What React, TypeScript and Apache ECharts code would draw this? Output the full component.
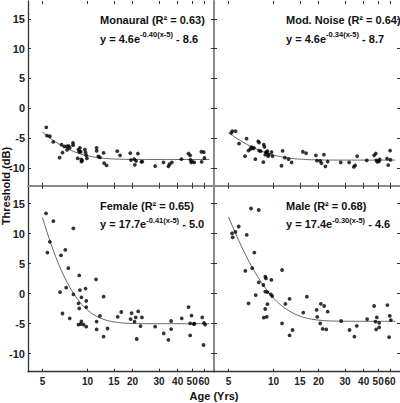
import React, { useEffect, useRef } from 'react';
import * as echarts from 'echarts';

const xTicks = [5, 10, 15, 20, 30, 40, 50, 60];
const yTicks = [-10, -5, 0, 5, 10, 15];

const monauralPts: number[][] = [
  [5.3, -3.2], [5.36, -4.6], [5.6, -4.7], [5.9, -5.65], [6.5, -8.3], [6.7, -6.1], [6.8, -7.45],
  [7.0, -6.4], [7.3, -7.0], [7.3, -6.35], [7.5, -6.35], [7.6, -6.65], [8.0, -5.8], [8.0, -6.2],
  [8.6, -8.4], [8.7, -6.95], [8.8, -7.3], [8.9, -6.65], [9.0, -7.3], [9.1, -8.6], [9.1, -8.95],
  [9.2, -8.8], [9.6, -6.95], [9.7, -7.45], [9.8, -7.9], [9.9, -8.4], [11.5, -6.65], [11.5, -7.15],
  [11.8, -8.1], [12.1, -8.25], [12.8, -7.5], [12.9, -9.2], [13.4, -9.6], [15.8, -7.2], [16.5, -7.9],
  [19.3, -7.55], [19.5, -8.7], [20.5, -8.55], [20.7, -9.5], [21.1, -8.85], [21.7, -7.6], [22.9, -9.0],
  [23.2, -8.95], [28.3, -9.7], [32.2, -9.1], [34.7, -9.75], [35.3, -9.4], [36.6, -9.1], [42.4, -8.55],
  [47.3, -7.6], [48.5, -7.9], [48.7, -8.65], [49.3, -9.1], [49.9, -8.9], [51.6, -9.1], [57.7, -7.3],
  [57.9, -9.0], [59.8, -7.35], [60.4, -8.35],
];

const modNoisePts: number[][] = [
  [5.22, -4.15], [5.3, -3.85], [5.58, -3.85], [5.88, -5.95], [6.45, -8.05], [6.6, -5.1], [6.8, -7.1],
  [7.0, -6.85], [7.1, -6.55], [7.3, -6.75], [7.4, -6.65], [7.56, -8.55], [7.9, -5.55], [8.0, -5.75],
  [8.0, -7.1], [8.2, -7.2], [8.55, -9.05], [8.6, -6.1], [8.7, -6.5], [8.8, -7.8], [8.9, -7.35],
  [9.0, -7.45], [9.1, -7.2], [9.2, -8.05], [9.3, -7.8], [9.7, -7.35], [9.85, -8.05], [11.3, -9.65],
  [11.5, -7.15], [11.9, -8.3], [12.6, -8.55], [13.2, -9.1], [15.7, -7.3], [16.5, -7.55], [19.2, -7.9],
  [19.5, -8.8], [20.5, -8.85], [20.9, -9.2], [21.7, -7.8], [22.2, -9.75], [23.0, -8.95], [28.1, -9.1],
  [32.0, -9.1], [34.4, -9.85], [35.1, -9.6], [36.2, -8.05], [42.0, -8.75], [47.0, -7.9], [48.2, -7.6],
  [48.7, -8.75], [49.4, -9.0], [50.7, -8.9], [51.2, -8.6], [57.4, -8.45], [58.4, -9.55], [60.1, -7.1],
  [60.4, -8.65],
];

const femalePts: number[][] = [
  [5.28, 13.4], [5.91, 12.1], [8.04, 10.9], [5.6, 8.65], [5.39, 6.85], [7.1, 7.3], [6.65, 6.4],
  [7.44, 4.25], [8.8, 3.05], [11.4, 2.4], [7.2, 1.0], [6.55, 0.25], [8.9, 0.6], [9.7, 0.85],
  [8.04, -0.1], [9.1, -0.6], [12.8, -0.5], [8.7, -1.6], [9.8, -1.2], [8.8, -2.45], [9.8, -2.25],
  [6.8, -3.3], [7.6, -4.1], [9.1, -4.6], [9.0, -5.05], [8.7, -5.15], [9.4, -5.15], [9.8, -5.5],
  [12.1, -3.7], [11.5, -4.65], [15.9, -3.85], [16.8, -3.05], [13.6, -5.8], [11.5, -5.95], [12.8, -7.15],
  [19.4, -4.25], [19.7, -3.25], [20.6, -4.65], [21.0, -3.95], [21.8, -2.95], [21.3, -7.55], [22.6, -5.4],
  [23.1, -3.95], [28.3, -5.5], [32.3, -6.6], [34.7, -7.7], [36.2, -5.9], [36.2, -4.55], [42.6, -4.1],
  [47.3, -2.25], [48.5, -6.95], [48.5, -4.95], [49.5, -3.65], [51.3, -5.05], [51.8, -5.0], [58.4, -3.95],
  [59.6, -8.55], [60.0, -4.85], [61.1, -5.15],
];

const malePts: number[][] = [
  [7.07, 14.2], [7.96, 13.95], [5.85, 11.2], [5.56, 10.3], [5.28, 10.05], [5.33, 9.4], [6.62, 9.8],
  [7.44, 6.85], [6.48, 3.8], [7.2, 4.25], [8.8, 2.85], [8.9, 2.55], [9.67, 2.3], [11.4, 3.95],
  [7.96, 1.9], [8.55, 1.45], [8.8, 0.35], [9.1, 0.25], [9.6, -0.1], [9.8, -0.4], [7.6, -0.25],
  [12.8, -0.85], [16.7, -0.5], [6.8, -1.6], [9.1, -1.75], [12.0, -1.7], [8.8, -2.55], [15.8, -3.15],
  [9.0, -3.85], [8.6, -4.0], [11.4, -4.95], [13.4, -6.05], [12.8, -6.95],
  [19.4, -2.7], [20.7, -1.7], [21.8, -2.05], [23.0, -3.0], [19.6, -3.85], [20.5, -4.95], [21.3, -5.85],
  [22.5, -5.95], [28.3, -4.55], [32.2, -6.05], [34.7, -7.15], [36.0, -5.35], [42.2, -4.25], [47.0, -2.05],
  [48.0, -4.65], [49.0, -3.95], [48.5, -5.95], [50.8, -4.85], [50.8, -5.6], [57.7, -1.9], [59.8, -3.7],
  [60.8, -4.4], [59.2, -7.25],
];

const panelTitles = [
  'Monaural (R\u00b2 = 0.63)',
  'Mod. Noise (R\u00b2 = 0.64)',
  'Female (R\u00b2 = 0.65)',
  'Male (R\u00b2 = 0.68)',
];
const fitA = [4.6, 4.6, 17.7, 17.4];
const fitB = [-0.4, -0.34, -0.41, -0.3];
const fitC = [-8.6, -8.7, -5.0, -4.6];
const fitLabelA = ['4.6', '4.6', '17.7', '17.4'];
const fitLabelB = ['-0.40', '-0.34', '-0.41', '-0.30'];
const fitLabelC = ['- 8.6', '- 8.7', '- 5.0', '- 4.6'];
const curveStart = 5;
const curveEnd = 65;

const FONT = '"Liberation Sans", Arial, sans-serif';

export default function App() {
  const ref = useRef<HTMLDivElement>(null);
  useEffect(() => {
    if (!ref.current) return;
    const chart = echarts.init(ref.current, null, { renderer: 'svg' });
    const pts = [monauralPts, modNoisePts, femalePts, malePts];
    const grids = [
      { left: 28, top: 1, width: 186, height: 184.7 },
      { left: 214, top: 1, width: 186, height: 184.7 },
      { left: 28, top: 185.7, width: 186, height: 186 },
      { left: 214, top: 185.7, width: 186, height: 186 },
    ];
    const darkLine = { show: true, onZero: false, lineStyle: { color: '#333', width: 1.3 } };
    const greyLine = { show: true, onZero: false, lineStyle: { color: '#8a8a8a', width: 2 } };
    const tick = { show: true, inside: true, length: 3, customValues: xTicks, lineStyle: { color: '#333', width: 1 } };
    const ytick = { show: true, inside: true, length: 3, customValues: yTicks, lineStyle: { color: '#333', width: 1 } };
    const xAxes: any[] = [];
    const yAxes: any[] = [];
    const series: any[] = [];
    for (let i = 0; i < 4; i++) {
      const bottomRow = i >= 2;
      const leftCol = i % 2 === 0;
      xAxes.push({
        type: 'log', logBase: 10, min: 4, max: 70, gridIndex: i, position: 'bottom',
        axisLine: bottomRow ? darkLine : greyLine,
        axisTick: tick,
        axisLabel: {
          show: bottomRow, customValues: xTicks, margin: 5, hideOverlap: false,
          showMinLabel: true, showMaxLabel: true,
          fontFamily: FONT, fontWeight: 'bold', fontSize: 10, color: '#222',
        },
        splitLine: { show: false },
      });
      xAxes.push({
        type: 'log', logBase: 10, min: 4, max: 70, gridIndex: i, position: 'top',
        axisLine: { show: false, onZero: false }, axisTick: tick, axisLabel: { show: false }, splitLine: { show: false },
      });
      yAxes.push({
        type: 'value', min: -13, max: 18, gridIndex: i, position: 'left',
        axisLine: leftCol ? darkLine : greyLine,
        axisTick: ytick,
        axisLabel: {
          show: leftCol, customValues: yTicks, margin: 3,
          fontFamily: FONT, fontWeight: 'bold', fontSize: 11, color: '#222',
        },
        splitLine: { show: false },
      });
      yAxes.push({
        type: 'value', min: -13, max: 18, gridIndex: i, position: 'right',
        axisLine: { show: false, onZero: false }, axisTick: ytick, axisLabel: { show: false }, splitLine: { show: false },
      });
      const curve: number[][] = [];
      const n = 80;
      for (let k = 0; k <= n; k++) {
        const age = curveStart * Math.pow(curveEnd / curveStart, k / n);
        curve.push([age, fitA[i] * Math.exp(fitB[i] * (age - 5)) + fitC[i]]);
      }
      series.push({
        type: 'line', xAxisIndex: 2 * i, yAxisIndex: 2 * i, data: curve,
        showSymbol: false, symbol: 'none', smooth: false,
        lineStyle: { color: '#666', width: 1 }, silent: true, z: 2,
      });
      series.push({
        type: 'scatter', xAxisIndex: 2 * i, yAxisIndex: 2 * i, data: pts[i],
        symbol: 'circle', symbolSize: 3.8, itemStyle: { color: '#000' }, z: 3,
      });
    }
    const textX = [100, 286, 100, 286];
    const textY = [20, 20, 205.7, 205.7];
    const graphics: any[] = [];
    for (let i = 0; i < 4; i++) {
      graphics.push({
        type: 'text', x: textX[i], y: textY[i],
        style: {
          text: panelTitles[i], fontFamily: FONT, fontWeight: 'bold', fontSize: 11,
          fill: '#111', verticalAlign: 'middle', align: 'left',
        },
      });
      graphics.push({
        type: 'text', x: textX[i], y: textY[i] + 18.5,
        style: {
          text: `{m|y = ${fitLabelA[i]}e}{s|${fitLabelB[i]}(x-5)}{m| ${fitLabelC[i]}}`,
          verticalAlign: 'middle', align: 'left',
          rich: {
            m: { fontFamily: FONT, fontWeight: 'bold', fontSize: 11, fill: '#111', lineHeight: 16, verticalAlign: 'middle' },
            s: { fontFamily: FONT, fontWeight: 'bold', fontSize: 7.5, fill: '#111', lineHeight: 16, verticalAlign: 'top' },
          },
        },
      });
    }
    graphics.push({
      type: 'text', x: 0, y: 186, rotation: Math.PI / 2,
      style: {
        text: 'Threshold (dB)', fontFamily: FONT, fontWeight: 'bold', fontSize: 11, fill: '#111',
        align: 'center', verticalAlign: 'top',
      },
    });
    graphics.push({
      type: 'text', x: 214, y: 396,
      style: {
        text: 'Age (Yrs)', fontFamily: FONT, fontWeight: 'bold', fontSize: 11, fill: '#111',
        align: 'center', verticalAlign: 'middle',
      },
    });
    chart.setOption({
      animation: false,
      backgroundColor: '#fff',
      grid: grids,
      xAxis: xAxes,
      yAxis: yAxes,
      series,
      graphic: graphics,
    });
    return () => chart.dispose();
  }, []);
  return <div ref={ref} style={{ position: 'fixed', left: 0, top: 0, width: 400, height: 403 }} />;
}
